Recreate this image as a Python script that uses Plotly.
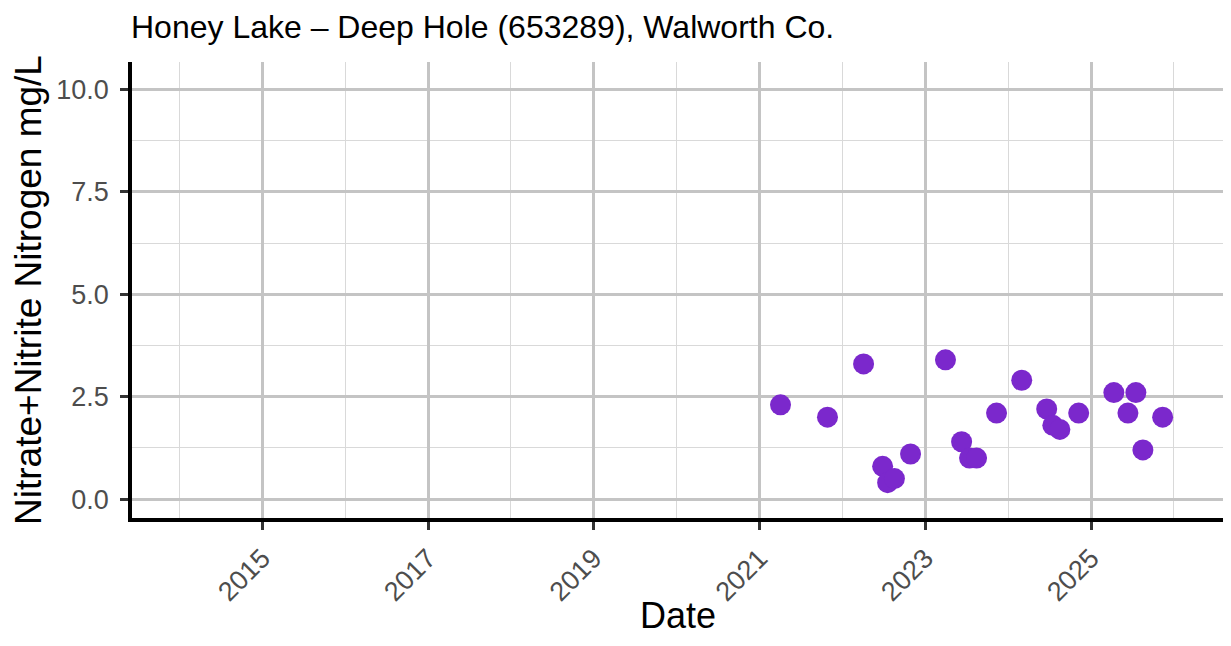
import plotly.graph_objects as go

dates = ["2021-04-03", "2021-10-27", "2022-04-04", "2022-06-27", "2022-07-19", "2022-08-18",
         "2022-10-28", "2023-03-31", "2023-06-10", "2023-07-15", "2023-08-15", "2023-11-11",
         "2024-03-01", "2024-06-19", "2024-07-16", "2024-08-16", "2024-11-07", "2025-04-11",
         "2025-06-12", "2025-07-17", "2025-08-17", "2025-11-12"]
values = [2.3, 2.0, 3.3, 0.8, 0.4, 0.5, 1.1, 3.4, 1.4, 1.0, 1.0, 2.1,
          2.9, 2.2, 1.8, 1.7, 2.1, 2.6, 2.1, 2.6, 1.2, 2.0]
y_ticks = [0, 2.5, 5, 7.5, 10]
y_tick_labels = ["0.0", "2.5", "5.0", "7.5", "10.0"]
y_minor = [1.25, 3.75, 6.25, 8.75]

title = "Honey Lake – Deep Hole (653289), Walworth Co."
x_title = "Date"
y_title = "Nitrate+Nitrite Nitrogen mg/L"

W, H = 1215, 630   # page body has an 8px margin
OFF = 8
PLOT_TOP, PLOT_BOTTOM = 62, 518

fig = go.Figure()
fig.add_trace(go.Scatter(
    x=dates, y=values, mode="markers",
    marker=dict(size=21, color="#7B28CC", line=dict(width=0)),
    showlegend=False,
))

font_family = "Liberation Sans, Arial, sans-serif"
fig.update_layout(
    width=W, height=H,
    margin=dict(l=132 - OFF, r=0, t=PLOT_TOP - OFF, b=OFF + H - PLOT_BOTTOM),
    plot_bgcolor="white", paper_bgcolor="white",
    font=dict(family=font_family),
    title=dict(text=title, x=(131 - OFF) / W, xanchor="left", y=1 - (27 - OFF) / H, yanchor="middle",
               font=dict(size=32, color="black", family=font_family)),
)
fig.add_annotation(
    text=x_title, xref="paper", yref="paper", x=0.5, xanchor="center",
    y=-(OFF + H - 1 - PLOT_BOTTOM) / (PLOT_BOTTOM - PLOT_TOP), yanchor="bottom",
    showarrow=False, borderpad=0, font=dict(size=36, color="black", family=font_family),
)
fig.update_xaxes(
    type="date",
    automargin=False,
    range=["2013-06-06", "2026-08-05"],
    tick0="2015-01-01", dtick="M24", tickformat="%Y",
    tickangle=-45,
    tickfont=dict(size=27, color="#4D4D4D"),
    ticks="outside", ticklen=8, tickwidth=3, tickcolor="#333333",
    ticklabelstandoff=2,
    showgrid=True, gridcolor="#C4C4C4", gridwidth=2.5,
    minor=dict(tick0="2014-01-01", dtick="M12", showgrid=True, gridcolor="#D9D9D9", gridwidth=1.2, ticks=""),
    showline=True, linecolor="black", linewidth=3.5,
    zeroline=False,
)
fig.update_yaxes(
    automargin=False,
    range=[-0.462, 10.67],
    tickvals=y_ticks, ticktext=y_tick_labels,
    tickfont=dict(size=27, color="#4D4D4D"),
    ticks="outside", ticklen=8, tickwidth=3, tickcolor="#333333",
    ticklabelstandoff=6,
    showgrid=True, gridcolor="#C4C4C4", gridwidth=2.5,
    minor=dict(tickvals=y_minor, showgrid=True, gridcolor="#D9D9D9", gridwidth=1.2, ticks=""),
    showline=True, linecolor="black", linewidth=3.5,
    zeroline=False,
    title=dict(text=y_title, font=dict(size=37, color="black"), standoff=14),
)

fig.write_html("out.html")
